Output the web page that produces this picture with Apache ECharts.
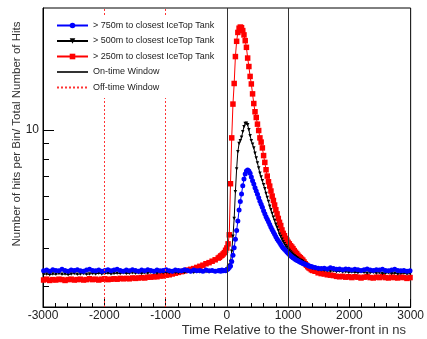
<!DOCTYPE html>
<html>
<head>
<meta charset="utf-8">
<script src="https://cdn.jsdelivr.net/npm/echarts@6/dist/echarts.min.js"></script>
<style>
html,body{margin:0;padding:0;background:#fff;}
#chart{width:427px;height:339px;}
</style>
</head>
<body>
<div id="chart"></div>
<script>
// ---- data (time in ns, hits per bin / total hits) ----
const timesLeft = [-2990,-2940,-2890,-2840,-2790,-2740,-2690,-2640,-2590,-2540,-2490,-2440,-2390,-2340,-2290,-2240,-2190,-2140,-2090,-2040,-1990,-1940,-1890,-1840,-1790,-1740,-1690,-1640,-1590,-1540,-1490,-1440,-1390,-1340,-1290,-1240,-1190,-1140,-1090,-1040,-990,-940,-890,-840,-790,-740,-690,-640,-590,-540,-490,-440,-390,-340,-290,-240,-190,-140];
const timesMid = [-120,-100,-80,-60,-40,-20,0,20,40,60,80,100,120,140,160,180,200,220,240,260,280,300,320,340,360,380,400,420,440,460,480,500,520,540,560,580,600,620,640,660,680,700,720,740,760,780,800,820,840,860,880,900,920,940,960,980,1000,1020,1040,1060,1080,1100,1120,1140,1160,1180,1200,1220,1240,1260,1280,1300,1320,1340,1360,1380,1400];
const timesRight = [1440,1490,1540,1590,1640,1690,1740,1790,1840,1890,1940,1990,2040,2090,2140,2190,2240,2290,2340,2390,2440,2490,2540,2590,2640,2690,2740,2790,2840,2890,2940,2990];

const blueLeft = [3.37,3.39,3.36,3.40,3.38,3.37,3.41,3.38,3.36,3.39,
3.38,3.40,3.37,3.36,3.39,3.41,3.38,3.37,3.39,3.36,
3.38,3.40,3.37,3.39,3.41,3.38,3.36,3.39,3.37,3.40,
3.38,3.36,3.39,3.37,3.40,3.38,3.36,3.39,3.37,3.38,
3.40,3.37,3.36,3.39,3.38,3.37,3.40,3.38,3.36,3.39,
3.37,3.38,3.36,3.39,3.37,3.38,3.36,3.37];
const blueMid = [3.38,3.36,3.39,3.37,3.38,3.37,
3.40,3.42,3.46,3.50,3.62,3.80,4.03,4.30,4.60,4.95,
5.39,5.75,6.10,6.50,6.85,7.12,7.28,7.34,7.28,7.15,
6.95,6.75,6.58,6.40,6.24,6.08,5.92,5.77,5.63,5.50,
5.36,5.24,5.12,5.02,4.92,4.82,4.72,4.63,4.55,4.47,
4.38,4.31,4.25,4.19,4.13,4.07,4.02,3.98,3.94,3.90,
3.86,3.82,3.79,3.76,3.73,3.71,3.68,3.66,3.64,3.62,
3.60,3.59,3.57,3.56,3.54,3.53,3.52,3.50,3.49,3.48,
3.47];
const blueRight = [3.46,3.44,3.43,3.44,3.42,3.45,3.43,3.41,3.42,3.40,3.42,3.41,3.39,3.41,3.40,3.38,3.40,3.42,3.39,3.38,3.40,3.39,3.41,3.38,3.37,3.39,3.41,3.38,3.37,3.38,3.36,3.37];

const blackLeft = [3.28,3.29,3.27,3.29,3.28,3.30,3.28,3.29,3.27,3.29,
3.30,3.28,3.29,3.30,3.28,3.29,3.30,3.29,3.31,3.29,
3.30,3.31,3.29,3.30,3.31,3.30,3.32,3.30,3.31,3.32,
3.31,3.32,3.30,3.32,3.31,3.33,3.32,3.31,3.33,3.32,
3.33,3.32,3.34,3.33,3.32,3.34,3.33,3.35,3.34,3.33,
3.35,3.34,3.36,3.35,3.34,3.36,3.35,3.36];
const blackMid = [3.36,3.37,3.36,3.38,3.37,3.38,
3.42,3.46,3.52,3.62,3.92,4.40,5.05,6.20,7.40,8.45,
9.0,9.2,9.45,9.85,10.25,10.5,10.52,10.4,10.0,9.55,
9.2,8.95,8.7,8.35,8.05,7.75,7.45,7.16,6.95,6.75,
6.55,6.35,6.12,5.93,5.75,5.55,5.4,5.25,5.1,4.97,
4.83,4.72,4.6,4.47,4.39,4.3,4.22,4.15,4.09,4.04,
3.98,3.94,3.90,3.86,3.82,3.79,3.76,3.73,3.71,3.68,
3.66,3.64,3.62,3.59,3.57,3.54,3.52,3.50,3.48,3.46,
3.44];
const blackRight = [3.42,3.40,3.39,3.38,3.37,3.36,3.37,3.35,3.36,3.34,3.35,3.33,3.34,3.33,3.32,3.34,3.33,3.31,3.32,3.33,3.31,3.32,3.30,3.31,3.32,3.30,3.31,3.29,3.30,3.31,3.29,3.30];

const redLeft = [3.14,3.16,3.13,3.15,3.14,3.16,3.15,3.13,3.15,3.16,
3.14,3.15,3.16,3.14,3.15,3.17,3.15,3.16,3.14,3.16,
3.17,3.15,3.16,3.17,3.16,3.18,3.17,3.18,3.17,3.19,
3.18,3.19,3.20,3.19,3.21,3.21,3.22,3.22,3.24,3.24,
3.26,3.27,3.29,3.31,3.33,3.35,3.37,3.39,3.41,3.43,
3.46,3.49,3.52,3.56,3.59,3.63,3.67,3.72];
const redMid = [3.74,3.78,3.80,3.84,3.88,3.95,
4.02,4.15,4.45,6.6,9.4,12.2,14.3,17.6,19.8,21.2,
21.9,22.1,22.0,21.5,20.8,19.9,18.9,17.4,16.3,15.1,
14.25,13.2,12.25,11.5,11.0,10.45,9.95,9.4,9.1,8.7,
8.2,7.78,7.35,7.0,6.7,6.48,6.24,6.0,5.8,5.6,
5.4,5.23,5.05,4.9,4.78,4.62,4.50,4.42,4.33,4.27,
4.20,4.15,4.09,4.05,4.0,3.94,3.89,3.85,3.80,3.76,
3.73,3.69,3.66,3.61,3.56,3.52,3.48,3.45,3.43,3.40,
3.38];
const redRight = [3.36,3.32,3.30,3.29,3.27,3.26,3.25,3.23,3.22,3.23,3.21,3.22,3.20,3.22,3.21,3.19,3.21,3.22,3.20,3.19,3.21,3.20,3.22,3.20,3.19,3.21,3.20,3.19,3.21,3.20,3.18,3.20];

const onTimeWindow = [0, 1000];
const offTimeWindow = [-2000, -1000];
const xTicks = [-3000, -2000, -1000, 0, 1000, 2000, 3000];
const yLabelValues = [10];
const yMinorTicks = [3, 4, 5, 6, 7, 8, 9, 20];

const names = ['> 750m to closest IceTop Tank', '> 500m to closest IceTop Tank', '> 250m to closest IceTop Tank', 'On-time Window', 'Off-time Window'];

function pairs(ts, vs) { return ts.map((t, i) => [t, vs[i]]); }
const times = timesLeft.concat(timesMid, timesRight);
const blue = pairs(times, blueLeft.concat(blueMid, blueRight));
const black = pairs(times, blackLeft.concat(blackMid, blackRight));
const red = pairs(times, redLeft.concat(redMid, redRight));

const FONT = 'Liberation Sans';
const chart = echarts.init(document.getElementById('chart'), null, {renderer: 'canvas'});
chart.setOption({
  animation: false,
  backgroundColor: '#fff',
  grid: {left: 43, right: 15, top: 8, bottom: 32, show: true, borderColor: '#000', borderWidth: 1, backgroundColor: 'transparent'},
  legend: {
    data: names, orient: 'vertical', left: 44, top: 17,
    itemWidth: 31, itemHeight: 7, itemGap: 6.5, padding: [4, 8, 6, 12],
    backgroundColor: '#fff', selectedMode: false, z: 10,
    textStyle: {fontSize: 9, color: '#222', fontFamily: FONT}
  },
  xAxis: {
    type: 'value', min: xTicks[0], max: xTicks[xTicks.length - 1], interval: 1000,
    axisLine: {show: true, onZero: false, lineStyle: {color: '#000', width: 1}},
    axisTick: {show: true, inside: true, length: 8, lineStyle: {color: '#000'}},
    minorTick: {show: true, splitNumber: 5, length: 4, lineStyle: {color: '#000'}},
    axisLabel: {fontSize: 12, color: '#222', margin: 3, fontFamily: FONT, formatter: v => String(v)},
    splitLine: {show: false}
  },
  yAxis: [{
    type: 'log', logBase: 10, min: 2.55, max: 25.6,
    axisLine: {show: true, onZero: false, lineStyle: {color: '#000', width: 1}},
    axisTick: {show: true, inside: true, length: 11, customValues: yLabelValues, lineStyle: {color: '#000'}},
    axisLabel: {show: true, customValues: yLabelValues, fontSize: 12, color: '#222', margin: 4, fontFamily: FONT},
    splitLine: {show: false}, minorTick: {show: false}
  }, {
    type: 'log', logBase: 10, min: 2.55, max: 25.6, position: 'left', offset: 0,
    axisLine: {show: false, onZero: false},
    axisTick: {show: true, inside: true, length: 6, customValues: yMinorTicks, lineStyle: {color: '#000'}},
    axisLabel: {show: false},
    splitLine: {show: false}, minorTick: {show: false}
  }],
  graphic: [
    {type: 'text', x: 17, y: 134, rotation: Math.PI / 2,
     style: {text: 'Number of hits per Bin/ Total Number of Hits', align: 'center', verticalAlign: 'middle', font: '11.5px "Liberation Sans"', fill: '#333'}},
    {type: 'text', x: 406, y: 330,
     style: {text: 'Time Relative to the Shower-front in ns', align: 'right', verticalAlign: 'middle', font: '13px "Liberation Sans"', fill: '#333'}}
  ],
  series: [
    {name: names[3], type: 'line', data: [], symbol: 'none', z: 1,
     itemStyle: {color: 'rgba(0,0,0,0)'}, lineStyle: {color: '#333', width: 1},
     markLine: {silent: true, symbol: ['none', 'none'], label: {show: false},
       lineStyle: {color: '#333', width: 1, type: 'solid'},
       data: onTimeWindow.map(v => ({xAxis: v}))}},
    {name: names[4], type: 'line', data: [], symbol: 'none', z: 1,
     itemStyle: {color: 'rgba(0,0,0,0)'}, lineStyle: {color: '#ff3333', width: 1, type: [2, 2]},
     markLine: {silent: true, symbol: ['none', 'none'], label: {show: false},
       lineStyle: {color: '#ff3333', width: 1, type: [2, 2]},
       data: offTimeWindow.map(v => ({xAxis: v}))}},
    {name: names[2], type: 'line', data: red, z: 2, symbol: 'rect', symbolSize: 5.5,
     itemStyle: {color: '#ff0000'}, lineStyle: {color: '#ff0000', width: 1}},
    {name: names[1], type: 'line', data: black, z: 3, symbol: 'triangle', symbolRotate: 180, symbolSize: 3.5,
     itemStyle: {color: '#000'}, lineStyle: {color: '#000', width: 1}},
    {name: names[0], type: 'line', data: blue, z: 3, symbol: 'circle', symbolSize: 5,
     itemStyle: {color: '#0000ff'}, lineStyle: {color: '#0000ff', width: 1}}
  ]
});
</script>
</body>
</html>
